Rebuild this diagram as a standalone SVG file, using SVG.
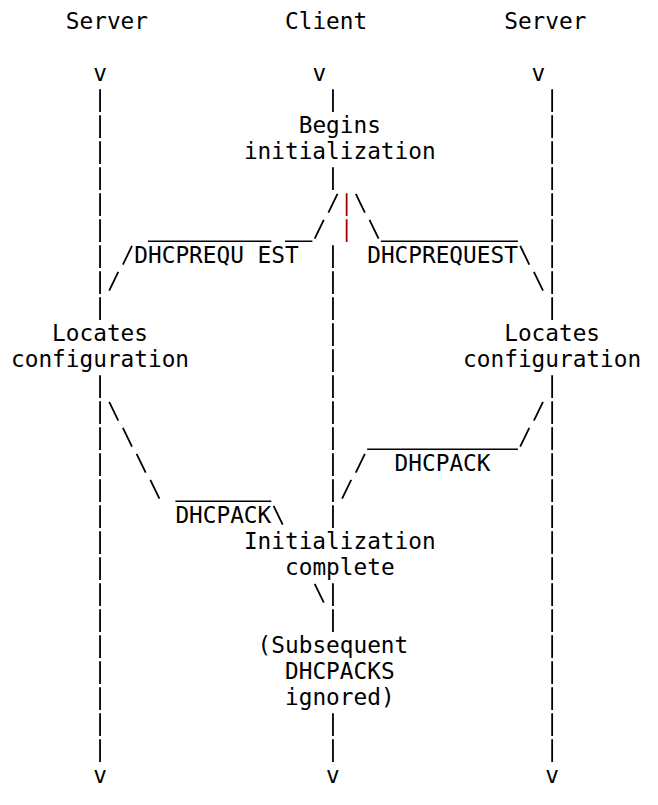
<svg xmlns="http://www.w3.org/2000/svg" width="658" height="805" viewBox="0 0 658 805">
<style>
  text { font-family: "DejaVu Sans Mono", "Liberation Mono", monospace; font-size: 22.75px; fill: #000; white-space: pre; }
  .life { stroke: #000; stroke-width: 1.8; stroke-dasharray: 22.7 3.3; fill: none; }
  .red { stroke: #a50000; stroke-width: 1.8; stroke-dasharray: 22.7 3.3; fill: none; }
  .diag { stroke: #000; stroke-width: 1.8; fill: none; stroke-linecap: butt; }
  .under { stroke: #000; stroke-width: 1.6; fill: none; }
</style>
<rect width="658" height="805" fill="#fff"/>

<g id="connectors" transform="translate(0,0.5)">
  <!-- lifelines -->
  <line class="life" x1="100.05" y1="88.7" x2="100.05" y2="319.4"/>
  <line class="life" x1="100.05" y1="374.7" x2="100.05" y2="761.4"/>
  <line class="life" x1="552.15" y1="88.7" x2="552.15" y2="319.4"/>
  <line class="life" x1="552.15" y1="374.7" x2="552.15" y2="761.4"/>
  <line class="life" x1="332.95" y1="88.7" x2="332.95" y2="111.4"/>
  <line class="life" x1="332.95" y1="166.7" x2="332.95" y2="189.4"/>
  <line class="life" x1="332.95" y1="244.7" x2="332.95" y2="527.4"/>
  <line class="life" x1="332.95" y1="582.7" x2="332.95" y2="631.4"/>
  <line class="life" x1="332.95" y1="712.7" x2="332.95" y2="761.4"/>
  <line class="red" x1="346.65" y1="192.7" x2="346.65" y2="241.4"/>

  <!-- arrow heads (v) -->
  <text x="93.2" y="80.5">v</text>
  <text x="312.4" y="80.5">v</text>
  <text x="531.6" y="80.5">v</text>
  <text x="93.2" y="782.5">v</text>
  <text x="326.1" y="782.5">v</text>
  <text x="545.3" y="782.5">v</text>

  <!-- forward slashes -->
  <path class="diag" d="M328.4,212.1 L337.5,193.4 M314.7,238.1 L323.8,219.4 M122.9,264.1 L132,245.4 M109.2,290.1 L118.3,271.4 M533.9,420.1 L543,401.4 M520.2,446.1 L529.3,427.4 M355.8,472.1 L364.9,453.4 M342.1,498.1 L351.2,479.4"/>
  <!-- back slashes -->
  <path class="diag" d="M355.8,193.4 L364.9,212.1 M369.5,219.4 L378.6,238.1 M520.2,245.4 L529.3,264.1 M533.9,271.4 L543,290.1 M109.2,401.4 L118.3,420.1 M122.9,427.4 L132,446.1 M136.6,453.4 L145.7,472.1 M150.3,479.4 L159.4,498.1 M273.6,505.4 L282.7,524.1 M314.7,583.4 L323.8,602.1"/>
  <!-- underscores -->
  <path class="under" d="M148,240.7 H271.3 M285,240.7 H312.4 M380.9,240.7 H517.9 M367.2,448.7 H517.9 M175.4,500.7 H271.3"/>
</g>

<g id="labels">
  <text id="lbl-req-left" x="134.3" y="263">DHCPREQU EST</text>
  <text id="lbl-req-right" x="367.2" y="263">DHCPREQUEST</text>
  <text id="lbl-ack-right" x="394.6" y="471">DHCPACK</text>
  <text id="lbl-ack-left" x="175.4" y="523">DHCPACK</text>
</g>

<g id="server-left"><text x="65.8" y="29">Server</text></g>
<g id="client"><text x="285" y="29">Client</text></g>
<g id="server-right"><text x="504.2" y="29">Server</text></g>

<g id="begins-init">
  <text x="298.7" y="133">Begins</text>
  <text x="243.9" y="159">initialization</text>
</g>

<g id="locates-left">
  <text x="52.1" y="341">Locates</text>
  <text x="11" y="367">configuration</text>
</g>

<g id="locates-right">
  <text x="504.2" y="341">Locates</text>
  <text x="463.1" y="367">configuration</text>
</g>

<g id="init-complete">
  <text x="243.9" y="549">Initialization</text>
  <text x="285" y="575">complete</text>
</g>

<g id="subsequent-ignored">
  <text x="257.6" y="653">(Subsequent</text>
  <text x="285" y="679">DHCPACKS</text>
  <text x="285" y="705">ignored)</text>
</g>
</svg>
